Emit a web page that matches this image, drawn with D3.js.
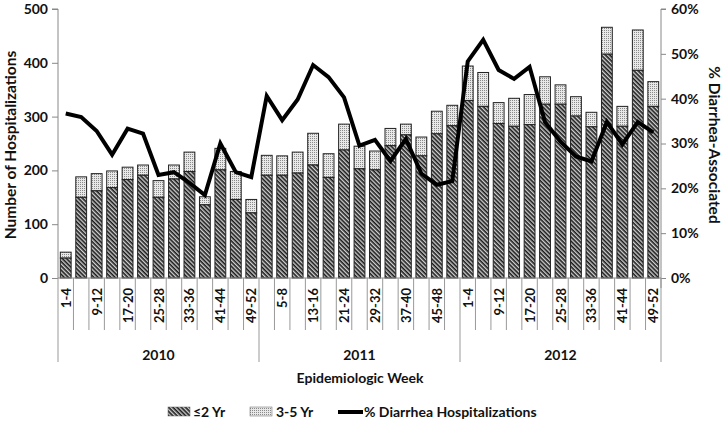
<!DOCTYPE html>
<html><head><meta charset="utf-8">
<script src="https://cdn.jsdelivr.net/npm/d3@7"></script>
<style>body{margin:0;background:#fff}svg{display:block;font-family:Lato,"Open Sans",sans-serif;font-weight:bold}</style>
</head><body><svg id="c" width="725" height="423"></svg>
<script>
const years = ["2010","2011","2012"];
const periods = ["1-4","5-8","9-12","13-16","17-20","21-24","25-28","29-32","33-36","37-40","41-44","45-48","49-52"];
const under2 = [37,150,162,168,183,191,150,184,198,136,201,146,121,
                191,191,195,210,187,238,203,201,246,266,227,268,283,
                330,319,287,282,285,323,323,301,281,416,282,386,319];
const total = [48,188,194,199,206,210,181,210,234,151,241,198,146,
               228,227,234,269,231,286,245,236,278,286,262,310,321,
               394,382,326,334,341,374,359,337,308,466,319,461,365];
const pct = [36.7,35.9,32.8,27.5,33.3,32.2,23.0,23.6,21.2,18.5,30.0,23.6,22.5,
             40.6,35.2,39.8,47.5,44.8,40.3,29.5,30.8,26.1,31.0,23.3,20.8,21.6,
             48.3,53.1,46.4,44.4,47.1,34.8,30.4,27.1,26.0,34.8,29.8,34.8,32.5];
const leftTicks = [0,100,200,300,400,500];
const rightTicks = [0,10,20,30,40,50,60];

const cats = [];
years.forEach(y => periods.forEach(p => cats.push({year:y, period:p})));
const data = cats.map((c,i) => ({...c, i, u2:under2[i], tot:total[i], p:pct[i]}));

const svg = d3.select("#c");
const L = 58, R = 661, T = 9, B = 278;
const x = d3.scaleBand().domain(d3.range(cats.length)).range([L,R]).paddingInner(0.3).paddingOuter(0.15);
const xb = d3.scaleBand().domain(d3.range(cats.length)).range([L,R]);
const y = d3.scaleLinear().domain([0,500]).range([B,T]);
const y2 = d3.scaleLinear().domain([0,60]).range([B,T]);

const defs = svg.append("defs");
const p1 = defs.append("pattern").attr("id","hatch").attr("patternUnits","userSpaceOnUse")
  .attr("width",3).attr("height",3).attr("patternTransform","rotate(45)");
p1.append("rect").attr("width",3).attr("height",3).attr("fill","#d0d0d0");
p1.append("rect").attr("width",3).attr("height",1.6).attr("fill","#1a1a1a");
const p2 = defs.append("pattern").attr("id","dots").attr("patternUnits","userSpaceOnUse")
  .attr("width",2).attr("height",2);
p2.append("rect").attr("width",2).attr("height",2).attr("fill","#e8e8e8");
p2.append("rect").attr("width",1).attr("height",1).attr("fill","#8a8a8a");

// bars
const g = svg.append("g");
g.selectAll(".b2").data(data).join("rect")
  .attr("x",d=>x(d.i)).attr("width",x.bandwidth())
  .attr("y",d=>y(d.tot)).attr("height",d=>y(d.u2)-y(d.tot))
  .attr("fill","url(#dots)").attr("stroke","#222").attr("stroke-width",1);
g.selectAll(".b1").data(data).join("rect")
  .attr("x",d=>x(d.i)).attr("width",x.bandwidth())
  .attr("y",d=>y(d.u2)).attr("height",d=>y(0)-y(d.u2))
  .attr("fill","url(#hatch)").attr("stroke","#222").attr("stroke-width",1);

// left axis
const ax = svg.append("g").attr("transform",`translate(${L},0)`)
  .call(d3.axisLeft(y).tickValues(leftTicks).tickSize(6).tickPadding(4));
ax.select(".domain").attr("stroke","#888").attr("d",`M-6,${T}H0V${B}`);
ax.selectAll(".tick line").attr("stroke","#888");
ax.selectAll("text").attr("font-size",14).attr("font-weight","bold").attr("fill","#111").attr("font-family","Lato");
// right axis
const ar = svg.append("g").attr("transform",`translate(${R},0)`)
  .call(d3.axisRight(y2).tickValues(rightTicks).tickSize(5).tickPadding(5).tickFormat(d=>d+"%"));
ar.select(".domain").attr("stroke","#888").attr("d",`M5,${T}H0V${B+10}`);
ar.selectAll(".tick line").attr("stroke","#888");
ar.selectAll("text").attr("font-size",14).attr("font-weight","bold").attr("fill","#111").attr("font-family","Lato");

// baseline
svg.append("line").attr("x1",L).attr("x2",R).attr("y1",B).attr("y2",B).attr("stroke","#888");

// category separators
const sep = svg.append("g");
d3.range(cats.length+1).forEach(i => {
  const xx = i===cats.length ? R : xb(i);
  const isYear = i % 13 === 0;
  sep.append("line").attr("x1",xx).attr("x2",xx).attr("y1",B).attr("y2",isYear?362:330)
    .attr("stroke","#999").attr("stroke-width",1);
});
// category labels
svg.append("g").selectAll("text").data(data.filter(d=>d.i%2===0)).join("text")
  .attr("transform",d=>`translate(${xb(d.i)+xb.bandwidth()/2+5},288) rotate(-90)`)
  .attr("text-anchor","end").attr("font-size",13).attr("fill","#111").text(d=>d.period);
// year labels
svg.append("g").selectAll("text").data(years).join("text")
  .attr("x",(d,j)=>(xb(j*13)+ (j===2?R:xb(j*13+13)))/2).attr("y",360)
  .attr("text-anchor","middle").attr("font-size",14).attr("fill","#111").text(d=>d);

// line
svg.append("path").datum(data)
  .attr("d",d3.line().x(d=>xb(d.i)+xb.bandwidth()/2).y(d=>y2(d.p)))
  .attr("fill","none").attr("stroke","#000").attr("stroke-width",4).attr("stroke-linejoin","miter");

// titles
svg.append("text").attr("transform","translate(16,145) rotate(-90)").attr("text-anchor","middle")
  .attr("font-size",15.5).attr("fill","#111").text("Number of Hospitalizations");
svg.append("text").attr("transform","translate(709,145) rotate(90)").attr("text-anchor","middle")
  .attr("font-size",15.5).attr("fill","#111").text("% Diarrhea-Associated");
svg.append("text").attr("x",360).attr("y",383).attr("text-anchor","middle")
  .attr("font-size",14).attr("fill","#111").text("Epidemiologic Week");

// legend
const lg = svg.append("g").attr("font-size",14).attr("fill","#111");
lg.append("rect").attr("x",168).attr("y",407).attr("width",22).attr("height",9).attr("fill","url(#hatch)").attr("stroke","#666").attr("stroke-width",0.5);
lg.append("text").attr("x",193).attr("y",417).text("≤2 Yr");
lg.append("rect").attr("x",250).attr("y",407).attr("width",22).attr("height",9).attr("fill","url(#dots)").attr("stroke","#666").attr("stroke-width",0.5);
lg.append("text").attr("x",276).attr("y",417).text("3-5 Yr");
lg.append("line").attr("x1",338).attr("x2",363).attr("y1",412).attr("y2",412).attr("stroke","#000").attr("stroke-width",4);
lg.append("text").attr("x",364).attr("y",417).text("% Diarrhea Hospitalizations");
</script></body></html>
